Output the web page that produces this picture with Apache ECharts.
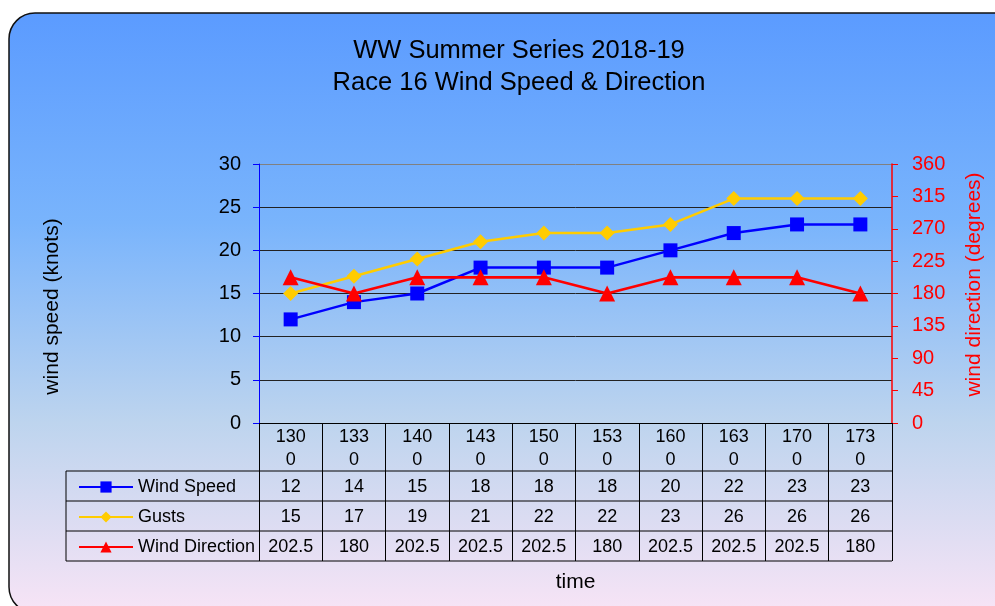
<!DOCTYPE html>
<html>
<head>
<meta charset="utf-8">
<script src="https://cdn.jsdelivr.net/npm/echarts@6/dist/echarts.min.js"></script>
<style>
  html, body { margin: 0; padding: 0; background: #fff; }
  #main { width: 995px; height: 606px; }
</style>
</head>
<body>
<div id="main"></div>
<script>
// data
var times = ['1300', '1330', '1400', '1430', '1500', '1530', '1600', '1630', '1700', '1730'];
var windSpeed = [12, 14, 15, 18, 18, 18, 20, 22, 23, 23];
var gusts = [15, 17, 19, 21, 22, 22, 23, 26, 26, 26];
var windDir = [202.5, 180, 202.5, 202.5, 202.5, 180, 202.5, 202.5, 202.5, 180];

var FONT = 'Liberation Sans, Arial, sans-serif';
var gridLeft = 259, gridRight = 103, gridTop = 164, gridBottom = 183;
var headH = 48, rowH = 30;

var chart = echarts.init(document.getElementById('main'));

// data table borders (the column lines come from the x axis ticks)
function tableLines() {
  var axisY = 606 - gridBottom;
  var x0 = 66, x1 = 995 - gridRight;
  var els = [];
  for (var k = 0; k <= 3; k++) {
    var y = axisY + headH + k * rowH;
    els.push({ type: 'line', shape: { x1: x0, y1: y, x2: x1, y2: y },
      style: { stroke: '#000', lineWidth: 1 }, silent: true });
  }
  els.push({ type: 'line', shape: { x1: x0, y1: axisY + headH, x2: x0, y2: axisY + headH + 3 * rowH },
    style: { stroke: '#000', lineWidth: 1 }, silent: true });
  return els;
}

var option = {
  backgroundColor: '#fff',
  animation: false,
  textStyle: { fontFamily: FONT },
  graphic: [{
    type: 'rect', z: -10, silent: true,
    shape: { x: 9, y: 13, width: 1010, height: 600, r: 26 },
    style: {
      stroke: '#111', lineWidth: 1.5,
      fill: new echarts.graphic.LinearGradient(0, 0, 0, 1, [
        { offset: 0, color: '#5b9bff' },
        { offset: 0.35, color: '#79b4fc' },
        { offset: 0.68, color: '#bdd4ee' },
        { offset: 1, color: '#f8e4f6' }
      ])
    }
  }].concat(tableLines()),
  title: {
    text: 'WW Summer Series 2018-19\nRace 16 Wind Speed & Direction',
    left: 514, top: 30, textAlign: 'center',
    textStyle: { fontFamily: FONT, fontSize: 25.5, fontWeight: 'normal', color: '#000', lineHeight: 32 }
  },
  legend: {
    orient: 'vertical', left: 73, top: 473,
    itemWidth: 54, itemHeight: 14, itemGap: 12,
    textStyle: { fontFamily: FONT, fontSize: 18, color: '#000' },
    data: ['Wind Speed', 'Gusts', 'Wind Direction']
  },
  grid: { left: gridLeft, right: gridRight, top: gridTop, bottom: gridBottom, outerBoundsMode: 'none' },
  xAxis: {
    type: 'category', data: times, boundaryGap: true,
    name: 'time', nameLocation: 'middle', nameGap: 149,
    nameTextStyle: { fontFamily: FONT, fontSize: 21, color: '#000' },
    axisLine: { lineStyle: { color: '#000', width: 1 } },
    axisTick: { show: true, length: headH + 3 * rowH, lineStyle: { color: '#000', width: 1 } },
    axisLabel: {
      interval: 0, margin: 3,
      formatter: function (v, i) {
        return '{h|' + v.slice(0, 3) + '}\n{h|' + v.slice(3) + '}\n{v|' + windSpeed[i] + '}\n{v|' +
          gusts[i] + '}\n{v|' + windDir[i] + '}';
      },
      rich: {
        h: { fontFamily: FONT, fontSize: 18, lineHeight: 23, color: '#000' },
        v: { fontFamily: FONT, fontSize: 18, lineHeight: 30, color: '#000' }
      }
    }
  },
  yAxis: [{
    type: 'value', min: 0, max: 30, interval: 5,
    name: 'wind speed (knots)', nameLocation: 'middle', nameGap: 196,
    nameTextStyle: { fontFamily: FONT, fontSize: 21, color: '#000', padding: [0, 26, 0, 0] },
    axisLine: { show: true, lineStyle: { color: '#0000ff', width: 1 } },
    axisTick: { show: true, length: 6, lineStyle: { color: '#0000ff' } },
    axisLabel: { fontFamily: FONT, fontSize: 20, color: '#000', margin: 18 },
    splitLine: { show: true, lineStyle: { color: ['#222', '#222', '#222', '#222', '#222', '#222', '#808080'], width: 1 } }
  }, {
    type: 'value', min: 0, max: 360, interval: 45, position: 'right',
    name: 'wind direction (degrees)', nameLocation: 'middle', nameGap: 72,
    nameTextStyle: { fontFamily: FONT, fontSize: 21, color: '#ff0000', padding: [0, 0, 0, 18] },
    axisLine: { show: true, lineStyle: { color: '#ff0000', width: 1.5 } },
    axisTick: { show: true, length: 6, lineStyle: { color: '#ff0000' } },
    axisLabel: { fontFamily: FONT, fontSize: 20, color: '#ff0000', margin: 20 },
    splitLine: { show: false }
  }],
  series: [{
    name: 'Wind Speed', type: 'line', data: windSpeed,
    symbol: 'rect', symbolSize: 14,
    itemStyle: { color: '#0000ff' }, lineStyle: { color: '#0000ff', width: 2.5 }
  }, {
    name: 'Gusts', type: 'line', data: gusts,
    symbol: 'diamond', symbolSize: 15,
    itemStyle: { color: '#ffcc00' }, lineStyle: { color: '#ffcc00', width: 2.5 }
  }, {
    name: 'Wind Direction', type: 'line', data: windDir, yAxisIndex: 1,
    symbol: 'triangle', symbolSize: 16,
    itemStyle: { color: '#ff0000' }, lineStyle: { color: '#ff0000', width: 2.7 }
  }]
};

chart.setOption(option);
</script>
</body>
</html>
